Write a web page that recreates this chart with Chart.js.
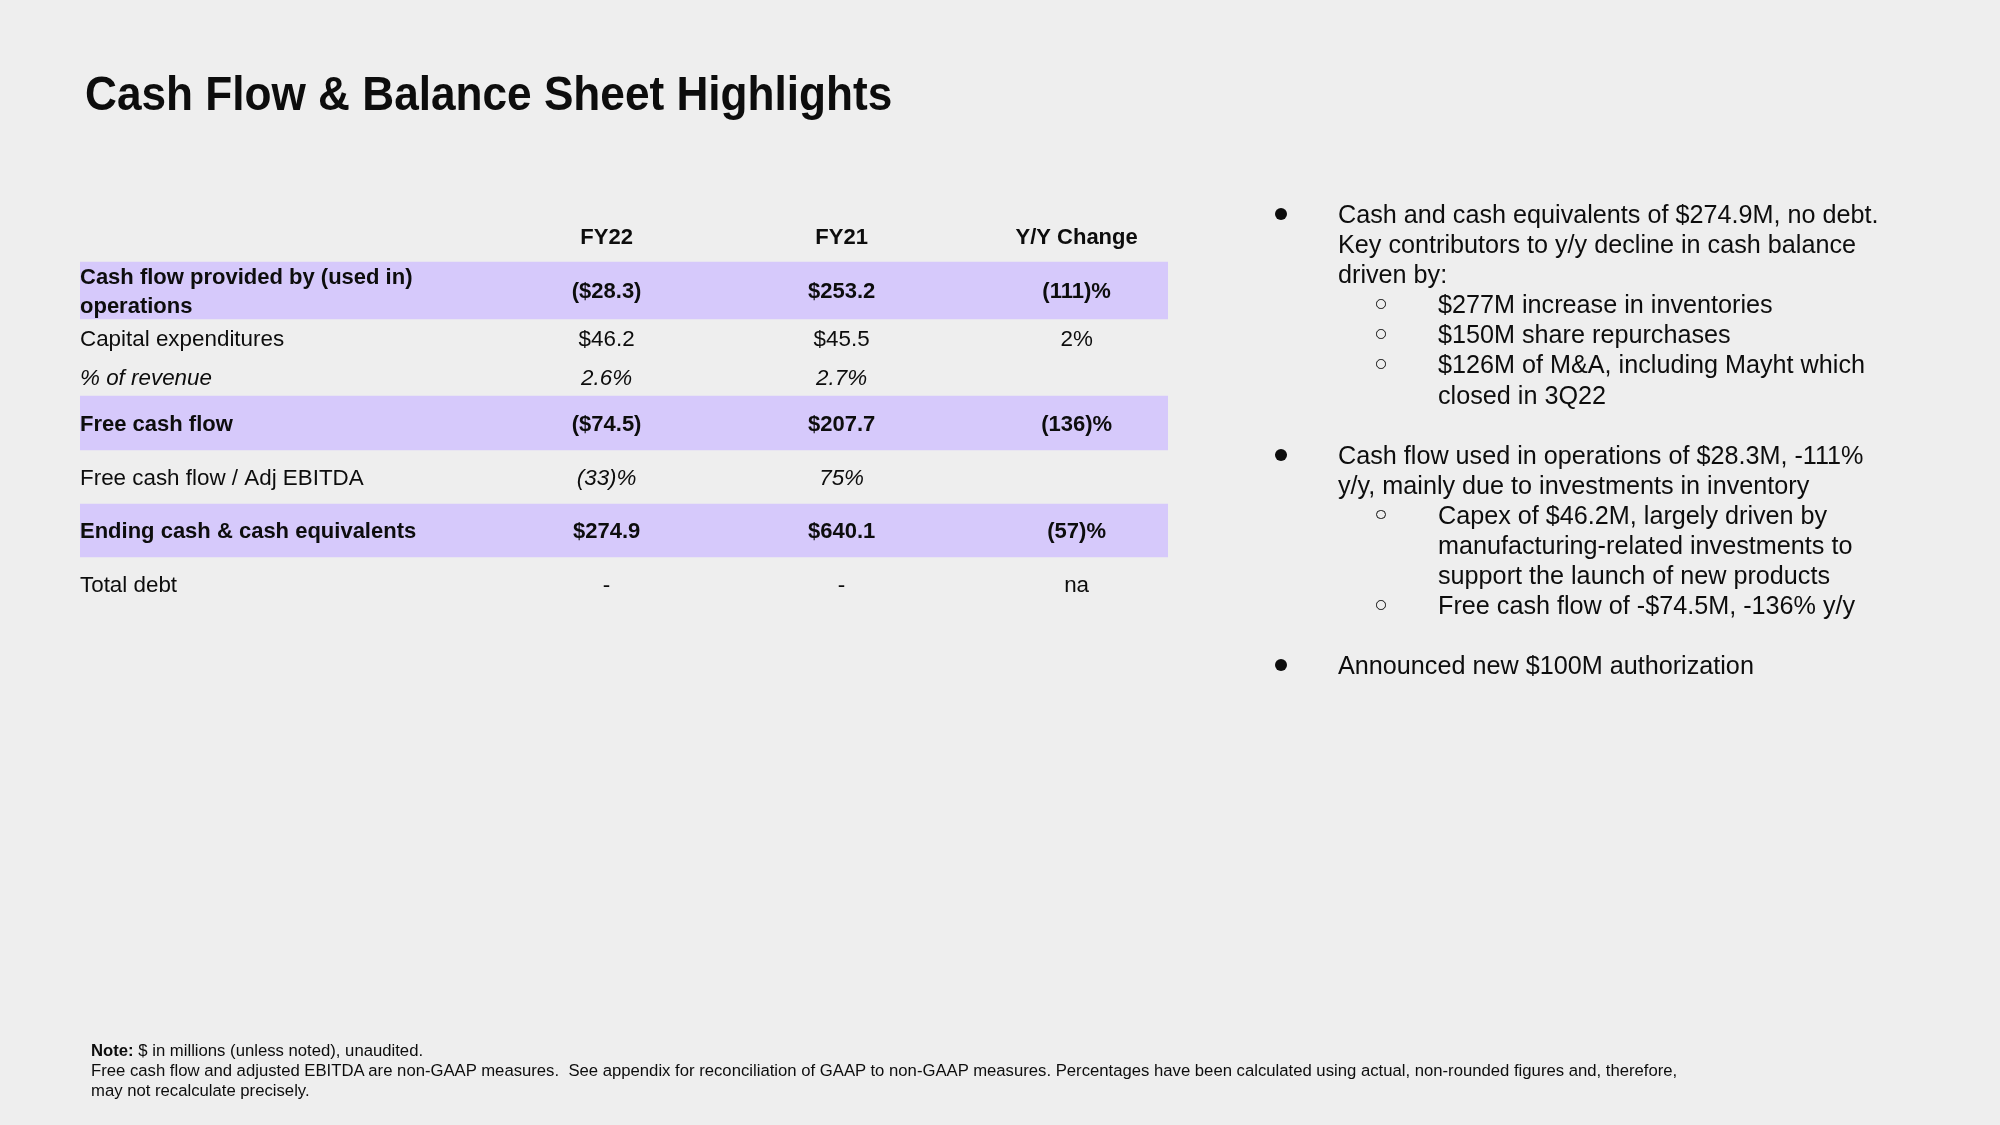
<!DOCTYPE html>
<html>
<head>
<meta charset="utf-8">
<script src="https://cdn.jsdelivr.net/npm/chart.js@4.4.1/dist/chart.umd.min.js"></script>
<style>
  html, body { margin: 0; padding: 0; background: #eeeeee; }
  body { width: 2000px; height: 1125px; position: relative; overflow: hidden;
         font-family: "Liberation Sans", Arial, Helvetica, sans-serif; color: #0d0d0d; }
  #table { position: absolute; left: 0; top: 0; }
  .title { position: absolute; left: 85px; top: 69px; font-size: 48px; line-height: 50px;
           font-weight: bold; white-space: nowrap; transform: scaleX(0.92); transform-origin: 0 0; }
  .notes { position: absolute; left: 1250px; top: 199px; font-size: 25.2px; line-height: 30.1px;
           white-space: nowrap; }
  .notes div { position: relative; height: 30.1px; }
  .notes .l1 { padding-left: 88px; }
  .notes .l2 { padding-left: 188px; }
  .dot { position: absolute; left: 25px; top: 9px; width: 12px; height: 12px;
         border-radius: 50%; background: #0d0d0d; }
  .ring { position: absolute; left: 126px; top: 10px; width: 7.5px; height: 7.5px;
          border-radius: 50%; border: 1.2px solid #0d0d0d; }
  .foot { position: absolute; left: 91px; top: 1041px; font-size: 16.7px; line-height: 20px;
          white-space: nowrap; }
</style>
</head>
<body>
<canvas id="table" width="2000" height="1125"></canvas>

<div class="title">Cash Flow &amp; Balance Sheet Highlights</div>

<div class="notes">
  <div class="l1"><span class="dot"></span>Cash and cash equivalents of $274.9M, no debt.</div>
  <div class="l1">Key contributors to y/y decline in cash balance</div>
  <div class="l1">driven by:</div>
  <div class="l2"><span class="ring"></span>$277M increase in inventories</div>
  <div class="l2"><span class="ring"></span>$150M share repurchases</div>
  <div class="l2"><span class="ring"></span>$126M of M&amp;A, including Mayht which</div>
  <div class="l2">closed in 3Q22</div>
  <div></div>
  <div class="l1"><span class="dot"></span>Cash flow used in operations of $28.3M, -111%</div>
  <div class="l1">y/y, mainly due to investments in inventory</div>
  <div class="l2"><span class="ring"></span>Capex of $46.2M, largely driven by</div>
  <div class="l2">manufacturing-related investments to</div>
  <div class="l2">support the launch of new products</div>
  <div class="l2"><span class="ring"></span>Free cash flow of -$74.5M, -136% y/y</div>
  <div></div>
  <div class="l1"><span class="dot"></span>Announced new $100M authorization</div>
</div>

<div class="foot">
  <div><b>Note:</b> $ in millions (unless noted), unaudited.</div>
  <div>Free cash flow and adjusted EBITDA are non-GAAP measures.&nbsp; See appendix for reconciliation of GAAP to non-GAAP measures. Percentages have been calculated using actual, non-rounded figures and, therefore,</div>
  <div>may not recalculate precisely.</div>
</div>

<script>
// table data ($M)
const rowLabels = [
    ['Cash flow provided by (used in)', 'operations'],
    'Capital expenditures',
    '% of revenue',
    'Free cash flow',
    'Free cash flow / Adj EBITDA',
    'Ending cash & cash equivalents',
    'Total debt'
];
const columnLabels = ['FY22', 'FY21', 'Y/Y Change'];
const fy22 = ['($28.3)', '$46.2', '2.6%', '($74.5)', '(33)%', '$274.9', '-'];
const fy21 = ['$253.2', '$45.5', '2.7%', '$207.7', '75%', '$640.1', '-'];
const yoyChange = ['(111)%', '2%', '', '(136)%', '', '(57)%', 'na'];
const keyRows = [0, 3, 5];
const italicLabelRows = [2];
const italicValueRows = [2, 4];

// layout: relative row heights (header first) and column anchors across the table width
const rowWeights = [52, 57, 38, 39, 54, 54, 53, 54];
const colAnchors = [0.484, 0.700, 0.916];

const FONT = '"Liberation Sans", Arial, sans-serif';
const fontSize = 22.4;
const boldSize = 22;
const lineGap = 29;

var rowTop = [];
var acc = 0;
rowWeights.forEach(function (w) {
    rowTop.push(acc);
    acc += w;
});
var totalHeight = acc;

function rowCenter(chart, r) {
    return chart.scales.y.getPixelForValue(rowTop[r] + rowWeights[r] / 2);
}

var tableText = {
    id: 'tableText',
    afterDatasetsDraw: function (chart) {
        var ctx = chart.ctx;
        var col = chart.scales.col;
        var left = chart.chartArea.left;
        ctx.save();
        ctx.fillStyle = '#0d0d0d';
        ctx.textBaseline = 'alphabetic';
        function put(text, x, yc, align, style) {
            var size = style === 'bold' ? boldSize : fontSize;
            ctx.font = style + ' ' + size + 'px ' + FONT;
            ctx.textAlign = align;
            ctx.fillText(text, x, yc + size * 0.358);
        }
        columnLabels.forEach(function (c, i) {
            put(c, col.getPixelForValue(colAnchors[i]), rowCenter(chart, 0), 'center', 'bold');
        });
        rowLabels.forEach(function (label, r) {
            var yc = rowCenter(chart, r + 1);
            var key = keyRows.indexOf(r) >= 0;
            var labStyle = key ? 'bold' : (italicLabelRows.indexOf(r) >= 0 ? 'italic' : 'normal');
            var valStyle = key ? 'bold' : (italicValueRows.indexOf(r) >= 0 ? 'italic' : 'normal');
            var lines = [].concat(label);
            lines.forEach(function (ln, k) {
                put(ln, left, yc + (k - (lines.length - 1) / 2) * lineGap, 'left', labStyle);
            });
            [fy22, fy21, yoyChange].forEach(function (series, i) {
                if (series[r]) {
                    put(series[r], col.getPixelForValue(colAnchors[i]), yc, 'center', valStyle);
                }
            });
        });
        ctx.restore();
    }
};

// shaded bands for the key rows, as floating bars on the row scale
var bands = keyRows.map(function (r) {
    return {
        label: rowLabels[r].toString(),
        data: [[rowTop[r + 1], rowTop[r + 1] + rowWeights[r + 1]]],
        backgroundColor: '#d6c9fb',
        borderWidth: 0,
        categoryPercentage: 1,
        barPercentage: 1
    };
});

var ctx = document.getElementById('table').getContext('2d');
new Chart(ctx, {
    type: 'bar',
    data: { labels: ['table'], datasets: bands },
    options: {
        responsive: false,
        animation: false,
        devicePixelRatio: 1,
        layout: { padding: { left: 80, right: 832, top: 210, bottom: 514 } },
        datasets: { bar: { grouped: false } },
        plugins: {
            legend: { display: false },
            tooltip: { enabled: false }
        },
        scales: {
            x: { display: false, offset: true },
            col: { axis: 'x', type: 'linear', display: false, offset: false, min: 0, max: 1 },
            y: { display: false, min: 0, max: totalHeight, reverse: true }
        }
    },
    plugins: [tableText]
});
</script>
</body>
</html>
